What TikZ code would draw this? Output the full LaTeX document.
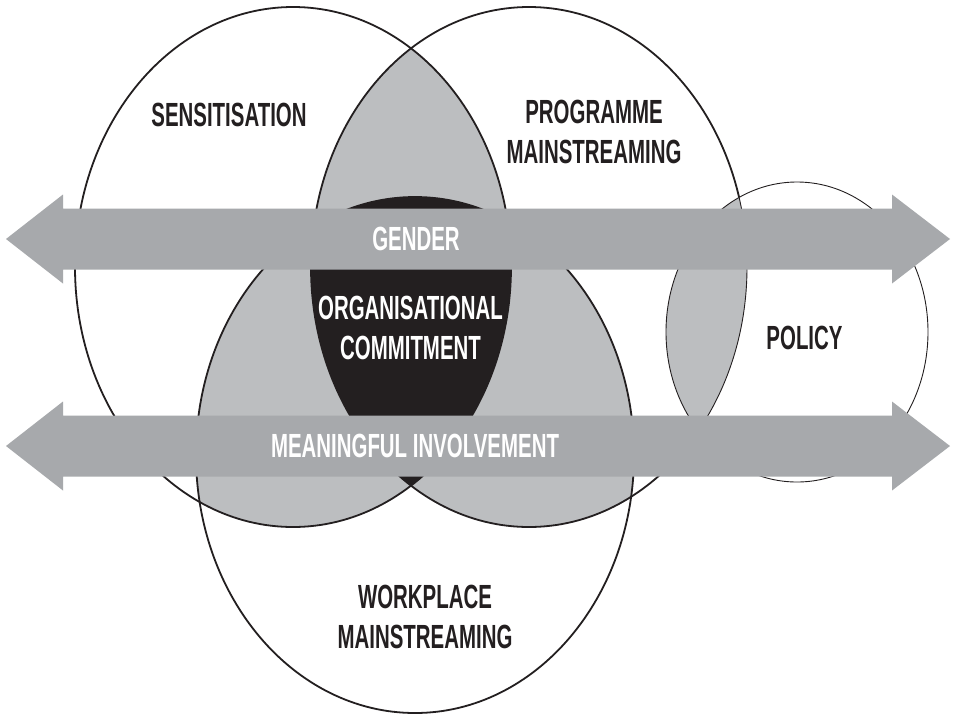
\documentclass[tikz,border=0pt]{standalone}
\usepackage{fontspec}
\newfontfamily\venfont{Liberation Sans}[FakeStretch=0.61]
\definecolor{bandgray}{HTML}{A7A9AC}
\definecolor{lensgray}{HTML}{BCBEC0}
\definecolor{ink}{HTML}{231F20}
\tikzstyle{band} = [fill=bandgray]
\tikzstyle{lens} = [fill=lensgray]
\tikzstyle{core} = [fill=ink]
\tikzstyle{rim} = [draw=ink, line width=1.8pt]
\tikzstyle{thinrim} = [draw=ink, line width=0.9pt]
\tikzstyle{areatext} = [font=\venfont\bfseries\fontsize{33.5}{40}\selectfont, align=center, text=ink, inner sep=0pt]
\tikzstyle{bandtext} = [areatext, text=white]
\newcommand{\shaft}{30.5}
\newcommand{\head}{44.5}
\newcommand{\sens}{(293,267) ellipse [x radius=218pt, y radius=260pt]}
\newcommand{\prog}{(529,267) ellipse [x radius=218pt, y radius=260pt]}
\newcommand{\work}{(415,455) ellipse [x radius=219pt, y radius=258pt]}
\newcommand{\poly}{(797,332) ellipse [x radius=131pt, y radius=150pt]}
% band arrow across the picture, #1 = middle line
\newcommand{\bandarrow}[1]{%
  \fill[band] (6,#1) -- (63,{#1-\head}) -- (63,{#1-\shaft}) -- (892,{#1-\shaft}) --
              (892,{#1-\head}) -- (950,#1) -- (892,{#1+\head}) -- (892,{#1+\shaft}) --
              (63,{#1+\shaft}) -- (63,{#1+\head}) -- cycle;}

\begin{document}
\begin{tikzpicture}[x=1pt,y=-1pt]

  \fill[white] (0,0) rectangle (956,716);
  \useasboundingbox (0,0) rectangle (956,716);

  % pairwise overlaps
  \begin{scope}
    \clip \sens;
    \fill[lens] \prog;
    \fill[lens] \work;
  \end{scope}
  \begin{scope}
    \clip \prog;
    \fill[lens] \work;
  \end{scope}
  % all three
  \begin{scope}
    \clip \sens;
    \clip \prog;
    \fill[core] \work;
  \end{scope}

  \draw[rim] \sens;
  \draw[rim] \prog;
  \draw[rim] \work;

  % policy sits on the right
  \fill[white] \poly;
  \begin{scope}
    \clip \poly;
    \fill[lens] \prog;
    \draw[thinrim] \prog;
  \end{scope}
  \draw[thinrim] \poly;

  % the two bands
  \bandarrow{239}
  \bandarrow{446}

  \node (sensitisation) [areatext] at (229,115) {SENSITISATION};
  \node (programme) [areatext] at (594,131.5) {PROGRAMME\\MAINSTREAMING};
  \node (policy) [areatext] at (804.5,337.5) {POLICY};
  \node (workplace) [areatext] at (425,617) {WORKPLACE\\MAINSTREAMING};
  \node (commitment) [bandtext] at (410.5,328) {ORGANISATIONAL\\COMMITMENT};
  \node (gender) [bandtext] at (416,239) {GENDER};
  \node (involvement) [bandtext] at (415,446) {MEANINGFUL INVOLVEMENT};

\end{tikzpicture}
\end{document}
